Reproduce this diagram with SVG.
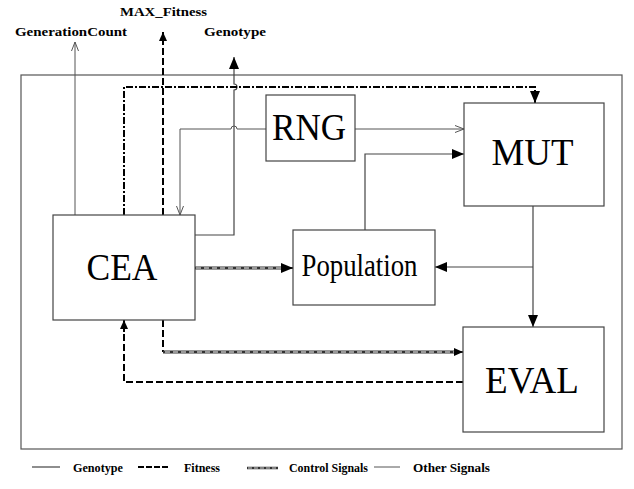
<svg xmlns="http://www.w3.org/2000/svg" width="634" height="489" viewBox="0 0 634 489">
<style>
.box{fill:#fff;stroke:#444;stroke-width:1.2}
.big{font-family:"Liberation Serif","Times New Roman","DejaVu Serif",serif;font-size:37px;fill:#000;text-anchor:middle}
.lbl{font-family:"Liberation Serif","Times New Roman","DejaVu Serif",serif;font-size:13px;font-weight:bold;fill:#000}
.geno{fill:none;stroke:#444;stroke-width:1.2}
.other{fill:none;stroke:#555;stroke-width:1}
.fit{fill:none;stroke:#000;stroke-width:2;stroke-dasharray:7 3}
.ctl{fill:none;stroke:#333;stroke-width:3.2}
.ctlin{fill:none;stroke:#fff;stroke-width:1;stroke-dasharray:5 3}
.dd{fill:none;stroke:#000;stroke-width:2;stroke-dasharray:7 2 2 2}
</style>
<defs>
<marker id="af" markerUnits="userSpaceOnUse" markerWidth="12" markerHeight="12" viewBox="0 0 12 12" refX="12" refY="6" orient="auto">
<path d="M0,1 L12,6 L0,11 Z" fill="#000"/>
</marker>
<marker id="as" markerUnits="userSpaceOnUse" markerWidth="9" markerHeight="9" viewBox="0 0 9 9" refX="9" refY="4.5" orient="auto">
<path d="M0,0.5 L9,4.5 L0,8.5 Z" fill="#000"/>
</marker>
<marker id="ao" markerUnits="userSpaceOnUse" markerWidth="10" markerHeight="10" viewBox="0 0 10 10" refX="9" refY="5" orient="auto">
<path d="M0,1.5 L9,5 L0,8.5" fill="none" stroke="#555" stroke-width="1"/>
</marker>
</defs>

<rect id="frame" x="21" y="75" width="601" height="374" fill="none" stroke="#555" stroke-width="1.2"/>

<g id="connectors">
<path class="other" d="M75,215 V42" marker-end="url(#ao)"/>
<path class="fit" d="M163,215 V40"/>
<path d="M163,42 V32" stroke="#000" stroke-width="2" fill="none" marker-end="url(#as)"/>
<path class="geno" d="M195,235 H234 V90 A3,3 0 0 0 234,84 V57" marker-end="url(#af)"/>
<path class="dd" d="M124,215 V87 H535 V96"/>
<path d="M535,93 V103" stroke="#000" stroke-width="2" fill="none" marker-end="url(#af)"/>
<path class="other" d="M355,129 H464" marker-end="url(#ao)"/>
<path class="other" d="M266,129 H237 A3,3 0 0 0 231,129 H180 V215" marker-end="url(#ao)"/>
<path class="geno" d="M365,230 V154 H464" marker-end="url(#af)"/>
<path class="geno" d="M533,206 V327" marker-end="url(#af)"/>
<path class="geno" d="M533,267 H435" marker-end="url(#af)"/>
<path class="ctl" d="M195,268 H284"/>
<path class="ctlin" d="M196,268 H284"/>
<path d="M282,268 H293" stroke="#333" stroke-width="2" fill="none" marker-end="url(#af)"/>
<path class="fit" d="M163,320 V352"/>
<path class="ctl" d="M163,352 H456"/>
<path class="ctlin" d="M165,352 H456"/>
<path d="M454,352 H463" stroke="#333" stroke-width="2" fill="none" marker-end="url(#as)"/>
<path class="fit" d="M463,382 H124 V330"/>
<path d="M124,332 V320" stroke="#000" stroke-width="2" fill="none" marker-end="url(#as)"/>
</g>

<g id="CEA">
<rect class="box" x="53" y="215" width="142" height="105"/>
<text class="big" font-family="Liberation Serif, serif" x="122" y="280" textLength="71" lengthAdjust="spacingAndGlyphs">CEA</text>
</g>
<g id="RNG">
<rect class="box" x="266" y="95" width="89" height="66"/>
<text class="big" font-family="Liberation Serif, serif" x="309" y="140" textLength="74" lengthAdjust="spacingAndGlyphs">RNG</text>
</g>
<g id="MUT">
<rect class="box" x="464" y="103" width="140" height="103"/>
<text class="big" font-family="Liberation Serif, serif" x="532.5" y="165" textLength="82" lengthAdjust="spacingAndGlyphs">MUT</text>
</g>
<g id="Population">
<rect class="box" x="293" y="230" width="142" height="75"/>
<text class="big" font-family="Liberation Serif, serif" x="359.5" y="276" style="font-size:31px" textLength="116" lengthAdjust="spacingAndGlyphs">Population</text>
</g>
<g id="EVAL">
<rect class="box" x="463" y="327" width="141" height="105"/>
<text class="big" font-family="Liberation Serif, serif" x="532" y="393" textLength="94" lengthAdjust="spacingAndGlyphs">EVAL</text>
</g>

<g id="labels">
<text class="lbl" x="15" y="36" textLength="112" lengthAdjust="spacingAndGlyphs">GenerationCount</text>
<text class="lbl" x="120" y="16" textLength="87" lengthAdjust="spacingAndGlyphs">MAX_Fitness</text>
<text class="lbl" x="204" y="36" textLength="62" lengthAdjust="spacingAndGlyphs">Genotype</text>
</g>

<g id="legend">
<path d="M32,467 H60" stroke="#444" stroke-width="1.2"/>
<text class="lbl" x="73" y="472" textLength="50" lengthAdjust="spacingAndGlyphs">Genotype</text>
<path d="M138,467 H170" stroke="#000" stroke-width="2" stroke-dasharray="6 2"/>
<text class="lbl" x="184" y="472" textLength="36" lengthAdjust="spacingAndGlyphs">Fitness</text>
<path d="M247,468 H278" stroke="#333" stroke-width="2.5"/>
<path d="M248,468 H278" stroke="#fff" stroke-width="0.8" stroke-dasharray="4 2"/>
<text class="lbl" x="289" y="472" textLength="79" lengthAdjust="spacingAndGlyphs">Control Signals</text>
<path d="M374,467 H400" stroke="#555" stroke-width="1"/>
<text class="lbl" x="413" y="472" textLength="77" lengthAdjust="spacingAndGlyphs">Other Signals</text>
</g>
</svg>
